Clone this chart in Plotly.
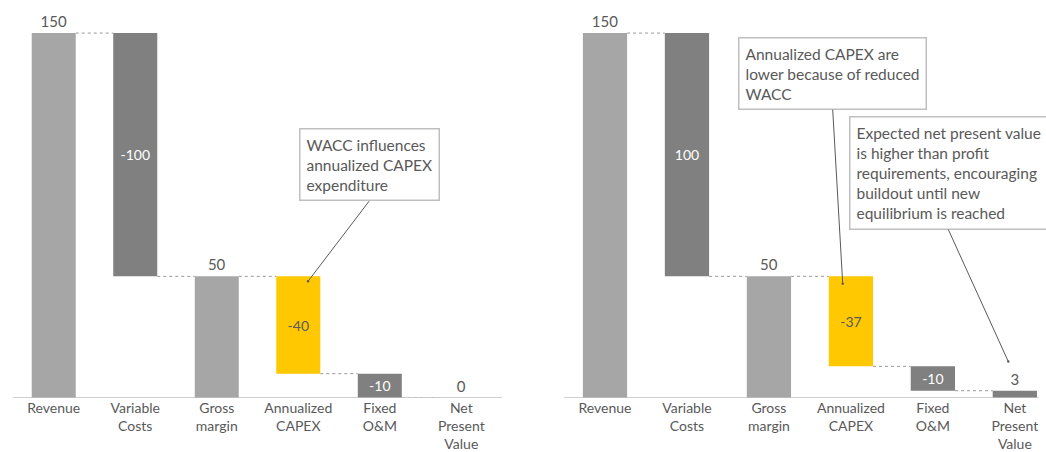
import plotly.graph_objects as go

categories = ["Revenue", "Variable<br>Costs", "Gross<br>margin", "Annualized<br>CAPEX", "Fixed<br>O&M", "Net<br>Present<br>Value"]
measures = ["total", "relative", "total", "relative", "relative", "total"]

left_values = [150, -100, 50, -40, -10, 0]
left_labels = ["150", "-100", "50", "-40", "-10", "0"]
right_values = [150, -100, 50, -37, -10, 3]
right_labels = ["150", "100", "50", "-37", "-10", "3"]

LIGHT = "#a6a6a6"
DARK = "#808080"
YELLOW = "#ffc800"
TEXT = "#595959"
bar_colors = [LIGHT, DARK, LIGHT, YELLOW, DARK, DARK]
text_pos = ["outside", "inside", "outside", "inside", "inside", "outside"]
inside_colors = ["white", "white", "white", TEXT, "white", TEXT]

FONT = "Lato"

fig = go.Figure()


def bases_and_heights(values, measures):
    bases, heights, levels = [], [], []
    level = 0
    for v, m in zip(values, measures):
        if m == "total":
            bases.append(0)
            heights.append(v)
            level = v
        else:
            bases.append(level)
            heights.append(v)
            level = level + v
        levels.append(level)
    return bases, heights, levels


for idx, (vals, labels) in enumerate([(left_values, left_labels), (right_values, right_labels)]):
    xa = "x" if idx == 0 else "x2"
    ya = "y" if idx == 0 else "y2"
    bases, heights, levels = bases_and_heights(vals, measures)
    xs = list(range(len(categories)))
    fig.add_trace(go.Bar(
        x=xs, y=heights, base=bases, width=0.54,
        marker=dict(color=bar_colors, line=dict(width=0)),
        text=labels, textposition=text_pos,
        insidetextanchor="middle",
        insidetextfont=dict(color=inside_colors, size=14, family=FONT),
        outsidetextfont=dict(color=TEXT, size=15, family=FONT),
        constraintext="none", cliponaxis=False,
        xaxis=xa, yaxis=ya, showlegend=False, hoverinfo="skip",
    ))
    # dotted connectors between consecutive bars
    for i in range(len(xs) - 1):
        lvl = levels[i]
        fig.add_trace(go.Scatter(
            x=[xs[i] + 0.27, xs[i + 1] - 0.27], y=[lvl, lvl], mode="lines",
            line=dict(color="#999999", width=1, dash="dot"),
            xaxis=xa, yaxis=ya, showlegend=False, hoverinfo="skip",
        ))

axis_common = dict(
    tickmode="array", tickvals=list(range(len(categories))), ticktext=categories,
    showgrid=False, zeroline=False, showline=False, ticks="", automargin=False,
    ticklabelstandoff=0,
    tickfont=dict(family=FONT, size=14, color=TEXT),
)
yaxis_common = dict(range=[0, 163.6], visible=False, showgrid=False, zeroline=False, automargin=False)

fig.update_layout(
    width=1046, height=452,
    margin=dict(l=0, r=0, t=0, b=54),
    plot_bgcolor="white", paper_bgcolor="white",
    font=dict(family=FONT, color=TEXT, size=14),
    xaxis=dict(domain=[0.0124, 0.48], range=[-0.5, 5.5], anchor="y", **axis_common),
    yaxis=dict(domain=[0, 1], anchor="x", **yaxis_common),
    xaxis2=dict(domain=[0.5392, 1.0], range=[-0.5, 5.38], anchor="y2", **axis_common),
    yaxis2=dict(domain=[0, 1], anchor="x2", **yaxis_common),
)

# baselines
fig.add_shape(type="line", xref="x domain", yref="y", x0=0, x1=1, y0=0, y1=0,
              line=dict(color="#bfbfbf", width=1.5))
fig.add_shape(type="line", xref="x2 domain", yref="y2", x0=0, x1=0.985, y0=0, y1=0,
              line=dict(color="#bfbfbf", width=1.5))

box_style = dict(bordercolor="#bfbfbf", borderwidth=1.5, bgcolor="white",
                 font=dict(family=FONT, size=15.5, color=TEXT), align="left",
                 showarrow=True, arrowhead=6, arrowsize=0.6, arrowwidth=1,
                 arrowcolor="#595959", borderpad=6)

# left annotation
fig.add_annotation(xref="x", yref="y", x=3 + 0.12, y=48,
                   axref="pixel", ayref="pixel", ax=61, ay=-80,
                   text="WACC influences<br>annualized CAPEX<br>expenditure",
                   xanchor="center", yanchor="bottom", **box_style)
# right annotations
fig.add_annotation(xref="x2", yref="y2", x=3 - 0.1, y=47,
                   axref="pixel", ayref="pixel", ax=-10, ay=-174,
                   text="Annualized CAPEX are<br>lower because of reduced<br>WACC",
                   xanchor="center", yanchor="bottom", **box_style)
fig.add_annotation(xref="x2", yref="y2", x=5 - 0.08, y=15,
                   axref="pixel", ayref="pixel", ax=-60, ay=-132,
                   text="Expected net present value<br>is higher than profit<br>requirements, encouraging<br>buildout until new<br>equilibrium is reached",
                   xanchor="center", yanchor="bottom", **box_style)

fig.write_html("out.html")
